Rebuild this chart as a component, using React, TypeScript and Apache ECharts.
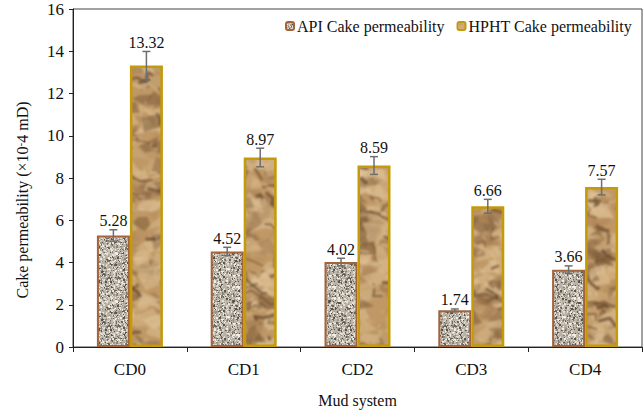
import React, { useEffect, useRef } from "react";
import * as echarts from "echarts";

const categories = ["CD0", "CD1", "CD2", "CD3", "CD4"];
const apiValues = [5.28, 4.52, 4.02, 1.74, 3.66];
const hphtValues = [13.32, 8.97, 8.59, 6.66, 7.57];
const apiErrors = [0.27, 0.2, 0.18, 0.06, 0.18];
const hphtErrors = [0.67, 0.44, 0.42, 0.33, 0.37];
const yTicks = { min: 0, max: 16, interval: 2 };
const seriesNames = ["API Cake permeability", "HPHT Cake permeability"];

const FONT = "'Liberation Serif', 'Times New Roman', serif";

function makeRng(seed: number) {
  let s = seed >>> 0;
  return () => {
    s = (s * 1664525 + 1013904223) >>> 0;
    return s / 4294967296;
  };
}

function granite(): HTMLCanvasElement {
  const c = document.createElement("canvas");
  c.width = 48;
  c.height = 48;
  const g = c.getContext("2d")!;
  const r = makeRng(7);
  g.fillStyle = "#b8b1a6";
  g.fillRect(0, 0, 48, 48);
  const cols = ["#6f6860", "#5a544e", "#8c8378", "#dcd6cc", "#f1ede6", "#a39886", "#cbc3b6", "#e6e1d8"];
  for (let i = 0; i < 1200; i++) {
    g.fillStyle = cols[Math.floor(r() * cols.length)];
    const s = r() < 0.75 ? 1 : 2;
    g.fillRect(Math.floor(r() * 48), Math.floor(r() * 48), s, s);
  }
  return c;
}

// one texture tile as large as the whole chart, so no tile seams fall on the bars
function crumpled(): HTMLCanvasElement {
  const W = 644, H = 414;
  const k = (W * H) / (100 * 130);
  const base = document.createElement("canvas");
  base.width = W;
  base.height = H;
  const g = base.getContext("2d")!;
  const r = makeRng(42);
  g.fillStyle = "#bf9866";
  g.fillRect(0, 0, W, H);
  const shades = ["#d8b98a", "#a98158", "#e2c69c", "#93704a", "#cca97a", "#7e5d3b", "#b88f5f", "#dcc092"];
  for (let i = 0; i < 140 * k; i++) {
    const cx = r() * W, cy = r() * H;
    g.fillStyle = shades[Math.floor(r() * shades.length)];
    g.globalAlpha = 0.55;
    g.beginPath();
    const n = 3 + Math.floor(r() * 3);
    for (let j = 0; j < n; j++) {
      const a = (j / n) * Math.PI * 2 + r() * 0.8;
      const rad = 5 + r() * 14;
      const x = cx + Math.cos(a) * rad, y = cy + Math.sin(a) * rad * 0.7;
      if (j === 0) g.moveTo(x, y); else g.lineTo(x, y);
    }
    g.closePath();
    g.fill();
  }
  g.globalAlpha = 0.7;
  for (let i = 0; i < 22 * k; i++) {
    g.strokeStyle = r() < 0.5 ? "#5f4329" : "#7a5735";
    g.lineWidth = 1 + r() * 2.2;
    g.beginPath();
    let x = r() * W, y = r() * H;
    g.moveTo(x, y);
    const steps = 2 + Math.floor(r() * 3);
    for (let j = 0; j < steps; j++) {
      x += (r() - 0.2) * 15;
      y += (r() - 0.35) * 12;
      g.lineTo(x, y);
    }
    g.stroke();
  }
  g.globalAlpha = 0.6;
  for (let i = 0; i < 20 * k; i++) {
    g.strokeStyle = "#efd9b4";
    g.lineWidth = 1.2;
    g.beginPath();
    const x = r() * W, y = r() * H;
    g.moveTo(x, y);
    g.lineTo(x + (r() - 0.2) * 14, y + (r() - 0.35) * 10);
    g.stroke();
  }
  g.globalAlpha = 1;
  const c = document.createElement("canvas");
  c.width = W;
  c.height = H;
  const g2 = c.getContext("2d")!;
  (g2 as any).filter = "blur(1px)";
  g2.drawImage(base, 0, 0);
  return c;
}

export default function App() {
  const ref = useRef<HTMLDivElement>(null);
  useEffect(() => {
    document.body.style.margin = "0";
    const chart = echarts.init(ref.current!, undefined, { renderer: "svg" });
    const gImg = granite();
    const cImg = crumpled();
    const BAR_W = 33;

    const errSeries = (name: string, vals: number[], errs: number[], sign: number) => ({
      type: "custom",
      name: name + "_err",
      silent: true,
      z: 5,
      data: vals.map((v, i) => [i, v, errs[i]]),
      renderItem: (params: any, api: any) => {
        const i = api.value(0), v = api.value(1), e = api.value(2);
        const top = api.coord([i, v + e]);
        const bot = api.coord([i, v - e]);
        const x = top[0] + sign * (BAR_W / 2);
        const cap = 4;
        const st = { stroke: "#6e6e6e", lineWidth: 1.5 };
        return {
          type: "group",
          children: [
            { type: "line", shape: { x1: x, y1: top[1], x2: x, y2: bot[1] }, style: st },
            { type: "line", shape: { x1: x - cap, y1: top[1], x2: x + cap, y2: top[1] }, style: st },
            { type: "line", shape: { x1: x - cap, y1: bot[1], x2: x + cap, y2: bot[1] }, style: st },
            {
              type: "text",
              x: x,
              y: top[1] - 1,
              style: {
                text: v.toFixed(2),
                fill: "#111",
                font: `16px ${FONT}`,
                align: "center",
                verticalAlign: "bottom",
              },
            },
          ],
        };
      },
    });

    chart.setOption({
      animation: false,
      backgroundColor: "#fff",
      grid: {
        left: 73,
        right: 2,
        top: 9,
        bottom: 67,
        show: true,
        borderColor: "#444",
        borderWidth: 1,
      },
      legend: {
        top: 13,
        left: 280,
        itemWidth: 8,
        itemHeight: 8,
        itemGap: 12,
        data: seriesNames,
        textStyle: { fontFamily: FONT, fontSize: 16, color: "#111", padding: [0, 0, 0, -2] },
      },
      graphic: [
        {
          type: "text",
          x: 22,
          y: 200,
          rotation: Math.PI / 2,
          style: {
            text: "Cake permeability (×10{s|-}4 mD)",
            font: `16px ${FONT}`,
            fill: "#111",
            align: "center",
            verticalAlign: "middle",
            rich: {
              s: { fontSize: 11, fontFamily: FONT, verticalAlign: "top", fill: "#111" },
            },
          },
        },
      ],
      xAxis: {
        type: "category",
        data: categories,
        name: "Mud system",
        nameLocation: "middle",
        nameGap: 45,
        nameTextStyle: { fontFamily: FONT, fontSize: 16, color: "#111" },
        axisLine: { lineStyle: { color: "#222", width: 1 } },
        axisTick: { show: true, alignWithLabel: false, length: 5, lineStyle: { color: "#222" } },
        axisLabel: { fontFamily: FONT, fontSize: 17, color: "#111", margin: 14 },
      },
      yAxis: {
        type: "value",
        min: yTicks.min,
        max: yTicks.max,
        interval: yTicks.interval,
        axisLine: { show: true, lineStyle: { color: "#222", width: 1 } },
        axisTick: { show: true, length: 4, lineStyle: { color: "#222" } },
        axisLabel: { fontFamily: FONT, fontSize: 17, color: "#111", margin: 9 },
        splitLine: { show: false },
      },
      series: [
        {
          type: "bar",
          name: seriesNames[0],
          data: apiValues,
          barWidth: BAR_W,
          barGap: "0%",
          itemStyle: {
            color: { image: gImg, repeat: "repeat" },
            borderColor: "#a3643c",
            borderWidth: 2,
          },
        },
        {
          type: "bar",
          name: seriesNames[1],
          data: hphtValues,
          barWidth: BAR_W,
          barGap: "0%",
          itemStyle: {
            color: { image: cImg, repeat: "repeat" },
            borderColor: "#c39a08",
            borderWidth: 2.5,
          },
        },
        errSeries("API", apiValues, apiErrors, -1),
        errSeries("HPHT", hphtValues, hphtErrors, 1),
      ],
    } as any);
    return () => chart.dispose();
  }, []);
  return <div ref={ref} style={{ width: 644, height: 414 }} />;
}
